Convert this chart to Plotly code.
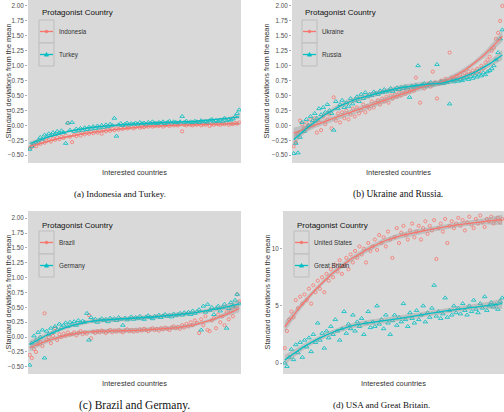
import numpy as np
import plotly.graph_objects as go

# ---------------- data ----------------
indonesia = [-0.38, -0.36, -0.33, -0.35, -0.30, -0.31, -0.27, -0.29, -0.26, -0.24,
             -0.27, -0.22, -0.24, -0.20, -0.23, -0.19, -0.21, -0.17, 0.04, -0.19,
             -0.28, -0.16, -0.18, -0.14, -0.17, -0.13, -0.15, -0.12, -0.14, -0.11,
             -0.13, -0.10, -0.12, -0.09, -0.14, -0.08, -0.10, -0.07, -0.09, -0.06,
             -0.08, -0.05, -0.07, -0.04, -0.06, -0.03, -0.05, -0.04, -0.02, -0.05,
             -0.03, -0.01, -0.04, -0.02, -0.03, -0.01, -0.02, 0.00, -0.02, -0.01,
             0.00, -0.01, 0.01, -0.02, 0.00, 0.01, -0.01, 0.02, 0.00, 0.01,
             0.00, 0.02, -0.10, 0.01, 0.00, 0.02, 0.01, 0.00, 0.02, 0.01,
             0.03, 0.00, 0.02, 0.01, 0.03, -0.01, 0.02, 0.01, 0.03, 0.02,
             0.01, 0.03, 0.02, 0.04, 0.01, 0.03, 0.02, 0.04, 0.03, 0.05]
turkey = [-0.40, -0.35, -0.30, -0.28, -0.25, -0.20, -0.23, -0.16, -0.19, -0.14,
          -0.17, -0.12, -0.15, -0.10, -0.13, -0.09, -0.12, -0.30, 0.04, -0.08,
          0.05, -0.10, -0.06, -0.09, -0.05, -0.08, -0.04, -0.07, -0.03, -0.06,
          -0.02, -0.05, -0.01, -0.04, 0.00, -0.03, 0.01, -0.02, 0.02, 0.00,
          0.12, -0.18, 0.01, 0.03, 0.00, 0.02, 0.04, 0.01, 0.03, 0.02,
          0.04, 0.02, 0.05, 0.03, 0.04, 0.02, 0.05, 0.03, 0.06, 0.04,
          0.03, 0.05, 0.04, 0.06, 0.03, 0.05, 0.07, 0.04, 0.06, 0.05,
          0.04, 0.06, 0.15, 0.05, 0.07, 0.04, 0.06, 0.05, 0.07, 0.06,
          0.05, 0.08, 0.06, 0.07, 0.05, 0.08, 0.10, 0.06, 0.08, 0.07,
          0.09, 0.07, 0.12, 0.08, 0.10, 0.09, 0.11, 0.15, 0.20, 0.26]

ukraine = [-0.35, -0.28, -0.15, 0.08, 0.02, -0.05, 0.05, -0.02, 0.10, 0.00,
           0.12, -0.12, 0.05, -0.08, 0.15, 0.02, 0.10, 0.18, -0.05, 0.47,
           0.08, 0.20, 0.05, 0.22, 0.12, 0.25, 0.10, 0.18, 0.28, 0.15,
           0.30, 0.20, 0.25, 0.35, 0.22, 0.32, 0.28, 0.40, 0.30, 0.38,
           0.42, 0.35, 0.45, 0.40, 0.48, 0.38, 0.50, 0.45, 0.52, 0.48,
           0.55, 0.50, 0.58, 0.53, 0.60, 0.56, 0.62, 0.58, 0.80, 0.64,
           0.38, 0.66, 0.62, 0.68, 0.70, 0.65, 0.90, 0.72, 0.45, 0.70,
           0.75, 0.72, 0.78, 0.74, 1.22, 0.80, 0.76, 0.82, 0.78, 0.85,
           0.80, 0.88, 0.84, 0.90, 0.86, 0.92, 0.88, 0.95, 0.90, 1.00,
           0.95, 1.05, 1.10, 1.15, 1.25, 1.30, 1.45, 1.55, 1.75, 2.00]
russia = [-0.47, -0.30, -0.46, -0.20, 0.05, -0.10, 0.10, 0.00, 0.15, 0.08,
          0.20, 0.12, 0.28, 0.18, 0.30, 0.22, 0.35, 0.25, 0.20, -0.08,
          0.40, 0.28, 0.35, 0.42, 0.30, 0.38, 0.32, 0.45, 0.36, 0.42,
          0.48, 0.40, 0.52, 0.45, 0.55, 0.48, 0.52, 0.50, 0.56, 0.54,
          0.52, 0.58, 0.55, 0.60, 0.56, 0.58, 0.62, 0.57, 0.60, 0.63,
          0.60, 0.64, 0.62, 0.65, 0.63, 0.47, 0.66, 0.64, 0.67, 1.00,
          0.65, 0.68, 0.70, 0.66, 0.69, 0.72, 0.68, 0.71, 1.02, 0.70,
          0.73, 0.70, 0.74, 0.72, 0.36, 0.75, 0.73, 0.76, 0.74, 0.77,
          0.75, 0.78, 0.80, 0.77, 0.82, 0.79, 0.84, 0.81, 0.86, 0.83,
          0.88, 0.85, 0.90, 0.92, 0.95, 1.00, 1.10, 1.22, 1.45, 1.60]

brazil = [-0.30, -0.35, -0.20, -0.25, -0.12, -0.08, -0.15, 0.40, -0.05, 0.00,
          -0.10, 0.02, 0.15, -0.05, 0.05, 0.00, 0.06, 0.02, 0.08, 0.04,
          0.05, 0.08, 0.03, 0.07, 0.10, 0.05, 0.08, 0.06, 0.37, -0.02,
          0.09, 0.07, 0.10, 0.08, 0.11, 0.09, 0.07, 0.10, 0.12, 0.08,
          0.11, 0.09, 0.12, 0.10, 0.08, 0.11, 0.13, 0.10, 0.12, 0.09,
          0.12, 0.10, 0.13, 0.11, 0.14, 0.12, 0.10, 0.13, 0.15, 0.12,
          0.14, 0.11, 0.15, 0.13, 0.16, 0.14, 0.12, 0.16, 0.18, 0.15,
          0.17, 0.14, 0.20, 0.16, 0.22, 0.18, 0.25, 0.20, 0.28, 0.24,
          0.07, 0.30, 0.20, 0.35, 0.12, 0.10, 0.28, 0.32, 0.15, 0.38,
          0.25, 0.35, 0.20, 0.42, 0.30, 0.45, 0.35, 0.50, 0.72, 0.60]
germany = [-0.47, -0.10, 0.02, -0.05, 0.08, 0.00, 0.12, -0.35, 0.10, 0.05,
           0.15, 0.08, 0.18, 0.12, 0.22, 0.16, 0.20, 0.24, 0.18, 0.25,
           0.22, 0.26, 0.20, 0.28, 0.24, 0.27, 0.25, 0.40, -0.05, 0.33,
           0.27, 0.30, 0.25, 0.29, 0.31, 0.28, 0.30, 0.26, 0.32, 0.29,
           0.31, 0.28, 0.33, 0.30, 0.20, 0.32, 0.29, 0.31, 0.34, 0.30,
           0.33, 0.31, 0.35, 0.32, 0.30, 0.34, 0.36, 0.33, 0.31, 0.35,
           0.34, 0.37, 0.33, 0.36, 0.38, 0.35, 0.37, 0.34, 0.39, 0.36,
           0.38, 0.40, 0.37, 0.41, 0.39, 0.42, 0.38, 0.44, 0.40, 0.43,
           0.46, 0.12, 0.52, 0.42, 0.55, 0.45, 0.50, 0.38, 0.48, 0.52,
           0.44, 0.50, 0.55, 0.15, 0.48, 0.58, 0.52, 0.62, 0.72, 0.56]

usa = [1.3, 2.8, 3.8, 4.5, 4.0, 5.5, 4.8, 5.8, 5.2, 6.0,
       5.5, 6.5, 5.2, 6.8, 6.2, 7.2, 6.5, 7.5, 6.2, 7.8,
       7.2, 8.2, 7.5, 8.6, 8.0, 9.0, 7.8, 8.5, 9.2, 8.2,
       9.5, 8.8, 9.8, 9.2, 10.2, 9.5, 10.0, 8.8, 10.5, 9.8,
       10.2, 10.8, 9.9, 11.2, 10.5, 11.0, 10.2, 11.5, 10.8, 9.2,
       11.0, 11.8, 10.5, 11.4, 12.0, 11.2, 10.8, 11.6, 12.2, 11.0,
       11.5, 12.0, 10.8, 11.8, 12.4, 11.3, 12.0, 11.6, 12.5, 9.1,
       11.8, 12.2, 11.5, 12.6, 10.5, 12.0, 12.4, 11.8, 12.2, 12.7,
       12.0, 12.5, 11.6, 12.3, 12.8, 12.1, 11.8, 12.6, 12.2, 12.9,
       12.3, 11.9, 12.6, 12.4, 12.8, 12.2, 12.5, 12.7, 12.3, 12.6]
great_britain = [0.0, -0.3, 0.5, 1.2, 0.3, 1.6, 0.9, 1.8, 0.5, 2.0,
                 1.4, 2.2, 1.0, 2.5, 1.8, 3.5, 2.0, 2.6, 1.3, 2.8,
                 2.2, 3.2, 2.5, 3.8, 2.8, 2.0, 3.0, 4.5, 2.6, 3.4,
                 3.0, 4.2, 2.8, 3.6, 3.2, 3.9, 2.5, 3.5, 4.5, 3.1,
                 3.6, 3.2, 5.0, 3.4, 3.8, 3.0, 4.2, 3.5, 2.5, 3.7,
                 4.2, 3.3, 4.0, 3.6, 5.2, 3.8, 3.2, 4.4, 3.9, 3.5,
                 4.6, 3.8, 4.2, 5.0, 3.6, 4.4, 4.0, 4.8, 6.8, 4.1,
                 4.5, 3.9, 4.3, 5.7, 4.0, 4.6, 4.2, 5.0, 4.4, 4.8,
                 4.3, 5.2, 4.6, 4.2, 5.0, 4.5, 5.5, 4.7, 4.4, 5.2,
                 4.8, 5.8, 4.6, 5.0, 5.3, 4.9, 5.1, 4.7, 5.4, 5.7]

sd_ticks = [-0.5, -0.25, 0.0, 0.25, 0.5, 0.75, 1.0, 1.25, 1.5, 1.75, 2.0]
usa_ticks = [0, 5, 10]

# ---------------- style ----------------
W, H = 504, 412
RED, CYAN = "#F8766D", "#00BFC4"
PANEL = "#D9D9D9"
SANS = "Liberation Sans, Arial, sans-serif"
SERIF = "Liberation Serif, Times New Roman, serif"


def X(p):
    return p / W


def Y(p):
    return 1 - p / H


def loess(y, grid, span=0.75):
    y = np.asarray(y, float)
    n = len(y)
    x = np.arange(n, dtype=float)
    q = int(np.floor(n * span))

    def row(x0):
        d = np.abs(x - x0)
        h = np.sort(d)[q - 1]
        w = np.clip(1 - (d / h) ** 3, 0, None) ** 3
        M = np.vstack([np.ones(n), x - x0, (x - x0) ** 2]).T
        A = M.T @ (w[:, None] * M)
        return np.linalg.solve(A, (M * w[:, None]).T)[0]

    Ld = np.array([row(v) for v in x])
    res = y - Ld @ y
    IL = np.eye(n) - Ld
    delta1 = np.trace(IL.T @ IL)
    sigma = np.sqrt(np.sum(res ** 2) / delta1)
    Lg = np.array([row(g) for g in grid])
    fit = Lg @ y
    se = sigma * np.sqrt(np.sum(Lg ** 2, axis=1))
    return fit, se


panels = [
    dict(s1=("Indonesia", indonesia), s2=("Turkey", turkey),
         box=(28, 241, 0, 163), yr=[-0.63, 2.10], ticks=sd_ticks, fmt=".2f",
         ytitle_x=8, caption="(a) Indonesia and Turkey.", cap_x=120, cap_y=194, cap_size=9,
         leg=(39, 54, 13, 20)),
    dict(s1=("Ukraine", ukraine), s2=("Russia", russia),
         box=(292, 504, 0, 163), yr=[-0.63, 2.10], ticks=sd_ticks, fmt=".2f",
         ytitle_x=266, caption="(b) Ukraine and Russia.", cap_x=398, cap_y=194, cap_size=9.5,
         leg=(302, 317, 13, 20)),
    dict(s1=("Brazil", brazil), s2=("Germany", germany),
         box=(28, 241, 211, 374), yr=[-0.62, 2.12], ticks=sd_ticks, fmt=".2f",
         ytitle_x=8, caption="(c) Brazil and Germany.", cap_x=134, cap_y=405, cap_size=11.5,
         leg=(39, 54, 225, 231)),
    dict(s1=("United States", usa), s2=("Great Britain", great_britain),
         box=(283, 504, 211, 374), yr=[-0.96, 13.3], ticks=usa_ticks, fmt="d",
         ytitle_x=267, caption="(d) USA and Great Britain.", cap_x=381, cap_y=405, cap_size=9,
         leg=(294, 309, 225, 231)),
]

fig = go.Figure()
shapes, annotations = [], []
layout_axes = {}

for i, p in enumerate(panels):
    k = "" if i == 0 else str(i + 1)
    xa, ya = "x" + k, "y" + k
    x0, x1, y0, y1 = p["box"]
    n = len(p["s1"][1])
    cats = list(range(n))
    layout_axes["xaxis" + k] = dict(
        domain=[X(x0), X(x1)], anchor=ya, range=[-0.8, n - 0.2],
        showticklabels=False, ticks="", showgrid=False, zeroline=False, showline=False)
    layout_axes["yaxis" + k] = dict(
        domain=[Y(y1), Y(y0)], anchor=xa, range=p["yr"], tickvals=p["ticks"],
        tickformat=p["fmt"], ticks="outside", ticklen=2, tickwidth=0.6, tickcolor="#777",
        tickfont=dict(family=SANS, size=6.3, color="#4d4d4d"),
        showgrid=False, zeroline=False, showline=False)

    # points
    for (name, vals), col, sym, sz in ((p["s1"], RED, "circle-open", 3.2),
                                       (p["s2"], CYAN, "triangle-up-open", 4.0)):
        fig.add_trace(go.Scatter(
            x=cats, y=vals, mode="markers", xaxis=xa, yaxis=ya, showlegend=False,
            marker=dict(symbol=sym, size=sz, color=col, line=dict(width=0.9, color=col)),
            opacity=0.9, hoverinfo="skip"))
    # smooth + band
    grid = np.linspace(0, n - 1, 80)
    for (name, vals), col in ((p["s1"], RED), (p["s2"], CYAN)):
        fit, se = loess(vals, grid)
        up, lo = fit + 1.96 * se, fit - 1.96 * se
        fig.add_trace(go.Scatter(
            x=np.concatenate([grid, grid[::-1]]), y=np.concatenate([up, lo[::-1]]),
            fill="toself", fillcolor="rgba(153,153,153,0.4)", line=dict(width=0),
            mode="lines", xaxis=xa, yaxis=ya, showlegend=False, hoverinfo="skip"))
        fig.add_trace(go.Scatter(
            x=grid, y=fit, mode="lines", line=dict(color=col, width=1.3),
            xaxis=xa, yaxis=ya, showlegend=False, hoverinfo="skip"))

    # panel background
    shapes.append(dict(type="rect", xref="paper", yref="paper", layer="below",
                       x0=X(x0), x1=X(x1), y0=Y(y1), y1=Y(y0),
                       fillcolor=PANEL, line=dict(width=0)))

    # axis titles
    annotations.append(dict(text="Standard deviations from the mean", xref="paper", yref="paper",
                            x=X(p["ytitle_x"]), y=Y((y0 + y1) / 2), textangle=-90,
                            showarrow=False, xanchor="center", yanchor="middle",
                            font=dict(family=SANS, size=7.4, color="#333")))
    annotations.append(dict(text="Interested countries", xref="paper", yref="paper",
                            x=X((x0 + x1) / 2), y=Y(y1 + 9), showarrow=False,
                            xanchor="center", yanchor="middle",
                            font=dict(family=SANS, size=7.4, color="#333")))
    annotations.append(dict(text=p["caption"], xref="paper", yref="paper",
                            x=X(p["cap_x"]), y=Y(p["cap_y"]), showarrow=False,
                            xanchor="center", yanchor="middle", borderpad=0,
                            font=dict(family=SERIF, size=p["cap_size"], color="#111")))

    # legend (drawn by hand, ggplot style)
    lx0, lx1, ty, by = p["leg"]
    annotations.append(dict(text="Protagonist Country", xref="paper", yref="paper",
                            x=X(lx0 + 1), y=Y(ty), showarrow=False,
                            xanchor="left", yanchor="middle",
                            font=dict(family=SANS, size=8, color="#111")))
    for j, ((name, _), col) in enumerate(((p["s1"], RED), (p["s2"], CYAN))):
        b0 = by + j * 23
        b1 = b0 + 23
        yc = (b0 + b1) / 2
        shapes.append(dict(type="rect", xref="paper", yref="paper",
                           x0=X(lx0), x1=X(lx1), y0=Y(b1), y1=Y(b0),
                           fillcolor=PANEL, line=dict(color="#bdbdbd", width=1)))
        shapes.append(dict(type="line", xref="paper", yref="paper",
                           x0=X(lx0 + 1), x1=X(lx1 - 1), y0=Y(yc), y1=Y(yc),
                           line=dict(color=col, width=1.3)))
        cx = (lx0 + lx1) / 2
        if j == 0:
            shapes.append(dict(type="circle", xref="paper", yref="paper",
                               x0=X(cx - 1.3), x1=X(cx + 1.3), y0=Y(yc + 1.3), y1=Y(yc - 1.3),
                               fillcolor=col, line=dict(color=col, width=0.8)))
        else:
            path = (f"M {X(cx - 2)} {Y(yc + 1.6)} L {X(cx + 2)} {Y(yc + 1.6)} "
                    f"L {X(cx)} {Y(yc - 2)} Z")
            shapes.append(dict(type="path", xref="paper", yref="paper", path=path,
                               fillcolor=col, line=dict(color=col, width=0.8)))
        annotations.append(dict(text=name, xref="paper", yref="paper",
                                x=X(lx1 + 3), y=Y(yc), showarrow=False,
                                xanchor="left", yanchor="middle",
                                font=dict(family=SANS, size=6.3, color="#333")))

fig.update_layout(
    width=W, height=H, margin=dict(l=0, r=0, t=0, b=0),
    paper_bgcolor="white", plot_bgcolor="rgba(0,0,0,0)", hovermode=False,
    showlegend=False, shapes=shapes, annotations=annotations, **layout_axes)

fig.write_html("out.html", config={"displayModeBar": False, "staticPlot": True},
               post_script="document.body.style.margin='0';document.body.style.overflow='hidden';")
